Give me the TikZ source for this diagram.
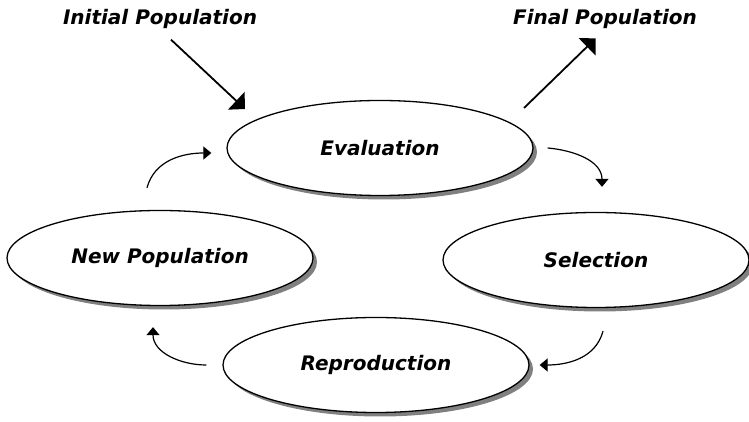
\documentclass[tikz,border=0pt]{standalone}
\usepackage{fontspec}
\setmainfont{DejaVu Sans}
\usetikzlibrary{shapes.geometric,shadows,arrows.meta,positioning}

\tikzset{
  stage/.style={ellipse,draw,line width=1.3pt,fill=white,
    minimum width=306pt,minimum height=95pt,inner sep=0pt,
    drop shadow={shadow xshift=4pt,shadow yshift=-4pt,fill=black!50,opacity=1},
    font=\fontsize{20}{24}\selectfont\bfseries\itshape},
  caption/.style={inner sep=0pt,anchor=base,
    font=\fontsize{20}{24}\selectfont\bfseries\itshape},
  bigarrow/.style={line width=1.8pt,-{Triangle[length=12pt,width=24pt]}},
  looparrow/.style={line width=1.2pt,-{Triangle[length=8pt,width=13pt]}},
}

\begin{document}
\begin{tikzpicture}[x=1pt,y=1pt,node distance=2cm,on grid]
	   \useasboundingbox (0,0) rectangle (749,422);
	   % the four stages of the cycle
	   \node[stage] (eval) at (380,274) {Evaluation};
	   \node[stage] (sel) [below right=112pt and 216pt of eval] {Selection};
	   \node[stage] (repro) [below left=105pt and 220pt of sel] {Reproduction};
	   \node[stage] (newpop) [above left=107pt and 216pt of repro] {New Population};
	   \node[caption] (initial) at (160,397) {Initial Population};
	   \node[caption] (final) at (605,397) {Final Population};
	   % in and out
	   \draw[bigarrow,shorten <=15pt] (initial.south) -- ([shift={(-135pt,39pt)}]eval.center);
	   \draw[bigarrow,shorten >=13pt] ([shift={(144pt,40pt)}]eval.center) -- (final.south);
	   % round the loop
	   \draw[looparrow] ([xshift=14pt]eval.east) to[out=-5,in=90] ([shift={(6pt,25pt)}]sel.north);
	   \draw[looparrow] ([shift={(7pt,-23pt)}]sel.south) to[out=-105,in=0] ([xshift=10pt]repro.east);
	   \draw[looparrow] ([xshift=-16pt]repro.west) to[out=180,in=-90] ([shift={(-7pt,-21pt)}]newpop.south);
	   \draw[looparrow] ([shift={(-13pt,22pt)}]newpop.north) to[out=75,in=180] ([shift={(-15pt,-5pt)}]eval.west);
	\end{tikzpicture}
\end{document}
